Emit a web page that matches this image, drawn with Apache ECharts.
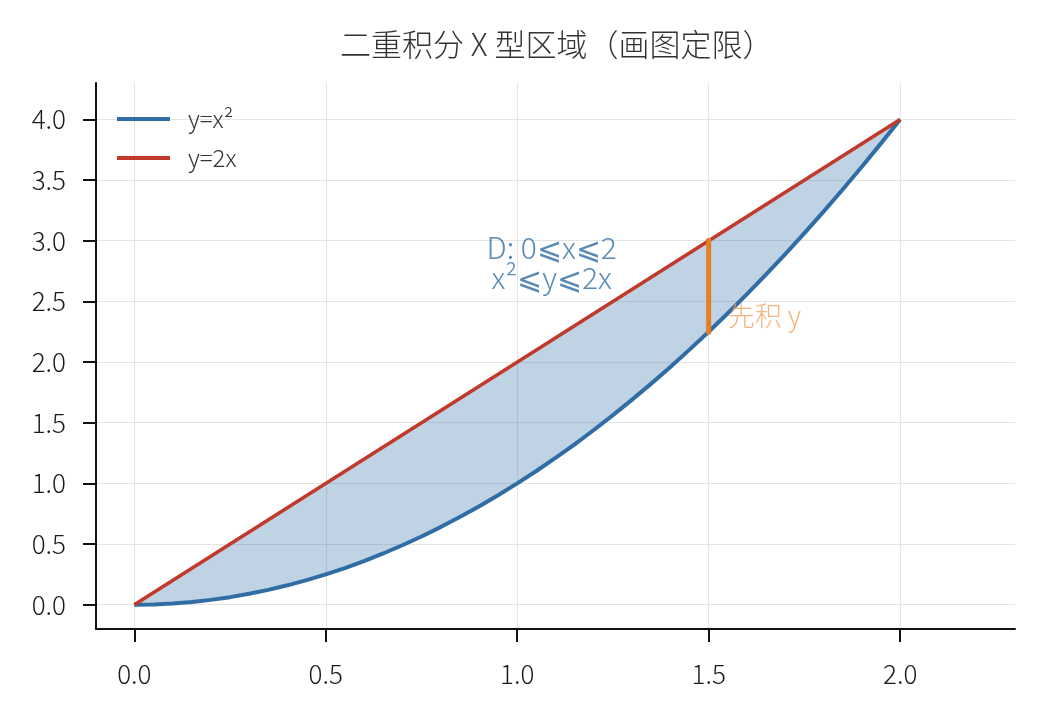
<!DOCTYPE html>
<html>
<head>
<meta charset="utf-8">
<script src="https://cdn.jsdelivr.net/npm/echarts@6/dist/echarts.min.js"></script>
<style>html,body{margin:0;padding:0;background:#fff;}#c{width:1045px;height:717px;}</style>
</head>
<body>
<div id="c"></div>
<script>
var xs = [0,0.05,0.1,0.15,0.2,0.25,0.3,0.35,0.4,0.45,0.5,0.55,0.6,0.65,0.7,0.75,0.8,0.85,0.9,0.95,1.0,
          1.05,1.1,1.15,1.2,1.25,1.3,1.35,1.4,1.45,1.5,1.55,1.6,1.65,1.7,1.75,1.8,1.85,1.9,1.95,2.0];
var ySquare = [0,0.0025,0.01,0.0225,0.04,0.0625,0.09,0.1225,0.16,0.2025,0.25,0.3025,0.36,0.4225,0.49,0.5625,0.64,0.7225,0.81,0.9025,1.0,
               1.1025,1.21,1.3225,1.44,1.5625,1.69,1.8225,1.96,2.1025,2.25,2.4025,2.56,2.7225,2.89,3.0625,3.24,3.4225,3.61,3.8025,4.0];
var lineX = [0, 2];
var lineY = [0, 4];
var cutX = [1.5, 1.5];
var cutY = [2.25, 3.0];
var xTicks = [0, 0.5, 1.0, 1.5, 2.0];
var yTicks = [0, 0.5, 1.0, 1.5, 2.0, 2.5, 3.0, 3.5, 4.0];
var seriesNames = ['y=x\u00b2', 'y=2x'];
var titleText = '二重积分 X 型区域（画图定限）';
var notes = [
  {x: 1.09, y: 2.94, text: 'D: 0⩽x⩽2'},
  {x: 1.09, y: 2.70, text: 'x\u00b2⩽y⩽2x'}
];
var cutNote = {x: 1.55, y: 2.385, text: '先积 y'};

var FONT = '"Noto Sans CJK SC", "Noto Sans", sans-serif';
var BLUE = '#2f6da4', RED = '#c0392b', ORANGE = '#e67e22';

var sqData = xs.map(function (x, i) { return [x, ySquare[i]]; });
var lnData = lineX.map(function (x, i) { return [x, lineY[i]]; });
var cutData = cutX.map(function (x, i) { return [x, cutY[i]]; });

var grid = [];
xTicks.forEach(function (v) { grid.push({xAxis: v}); });
yTicks.forEach(function (v) { grid.push({yAxis: v}); });

var chart = echarts.init(document.getElementById('c'));
chart.setOption({
  animation: false,
  backgroundColor: '#fff',
  title: {
    text: titleText, left: 335, top: 24,
    textStyle: {fontFamily: FONT, fontSize: 31, fontWeight: 300, color: '#333'}
  },
  legend: {
    orient: 'vertical', left: 112, top: 102, z: 20,
    data: [
      {name: seriesNames[0], itemStyle: {color: BLUE, borderWidth: 0}},
      {name: seriesNames[1], itemStyle: {color: RED, borderWidth: 0}}
    ],
    icon: 'rect', itemWidth: 53, itemHeight: 4, itemGap: 15,
    textStyle: {fontFamily: FONT, fontSize: 24, fontWeight: 300, color: '#333', lineHeight: 24, padding: [0, 0, 0, 13]}
  },
  grid: {left: 96, right: 30, top: 83, bottom: 88},
  xAxis: {
    type: 'value', min: -0.1, max: 2.3, z: 10,
    axisLine: {show: true, onZero: false, lineStyle: {color: '#111', width: 2}},
    axisTick: {show: true, customValues: xTicks, length: 13, lineStyle: {color: '#111', width: 2}},
    axisLabel: {customValues: xTicks, margin: 32, fontFamily: FONT, fontSize: 26, fontWeight: 300, color: '#1a1a1a',
      formatter: function (v) { return v.toFixed(1); }},
    splitLine: {show: false}
  },
  yAxis: {
    type: 'value', min: -0.2, max: 4.3, z: 10,
    axisLine: {show: true, onZero: false, lineStyle: {color: '#111', width: 2}},
    axisTick: {show: true, customValues: yTicks, length: 13, lineStyle: {color: '#111', width: 2}},
    axisLabel: {customValues: yTicks, margin: 30, fontFamily: FONT, fontSize: 26, fontWeight: 300, color: '#1a1a1a',
      formatter: function (v) { return v.toFixed(1); }},
    splitLine: {show: false}
  },
  series: [
    {
      type: 'line', name: 'grid', data: [], z: 0, silent: true,
      markLine: {silent: true, z: 0, symbol: ['none', 'none'], label: {show: false},
        lineStyle: {color: '#e4e4e4', width: 1.2, type: 'solid'}, data: grid}
    },
    {
      type: 'custom', name: 'fill', z: 1, silent: true,
      data: [0],
      renderItem: function (params, api) {
        var pts = sqData.map(function (p) { return api.coord(p); });
        for (var i = lnData.length - 1; i >= 0; i--) pts.push(api.coord(lnData[i]));
        return {type: 'polygon', shape: {points: pts}, style: {fill: BLUE, opacity: 0.3}};
      }
    },
    {
      type: 'line', name: seriesNames[0], data: sqData, showSymbol: false, smooth: false, z: 3,
      lineStyle: {color: BLUE, width: 4, join: 'round'}, itemStyle: {color: BLUE}
    },
    {
      type: 'line', name: seriesNames[1], data: lnData, showSymbol: false, z: 4,
      lineStyle: {color: RED, width: 3.5}, itemStyle: {color: RED}
    },
    {
      type: 'line', name: 'cut', data: cutData, showSymbol: false, z: 5,
      lineStyle: {color: ORANGE, width: 5, cap: 'square'}, itemStyle: {color: ORANGE}
    },
    {
      type: 'scatter', name: 'notes', symbolSize: 0, z: 6, silent: true,
      data: notes.map(function (n) { return {value: [n.x, n.y], label: {formatter: n.text}}; }),
      label: {show: true, position: 'inside', fontFamily: FONT, fontSize: 30, fontWeight: 300, color: '#2f6da4'}
    },
    {
      type: 'scatter', name: 'cutnote', symbolSize: 0, z: 6, silent: true,
      data: [{value: [cutNote.x, cutNote.y], label: {formatter: cutNote.text}}],
      label: {show: true, position: 'right', distance: 0, fontFamily: FONT, fontSize: 27, fontWeight: 300, color: '#f0a25c'}
    }
  ]
});
</script>
</body>
</html>
